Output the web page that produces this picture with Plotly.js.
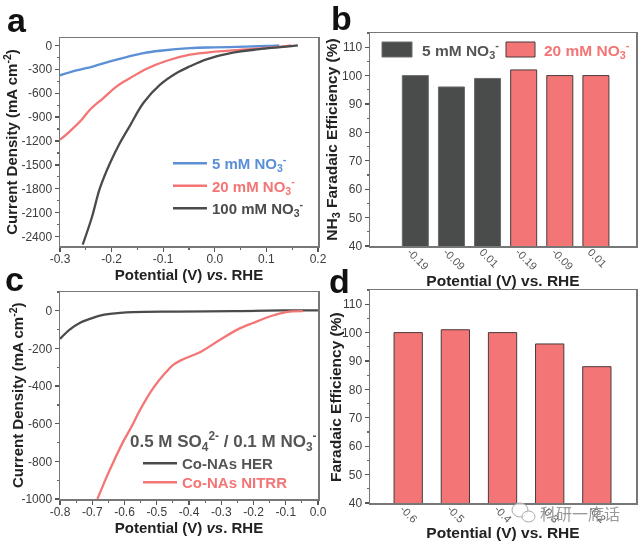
<!DOCTYPE html>
<html>
<head>
<meta charset="utf-8">
<script src="https://cdn.plot.ly/plotly-3.0.1.min.js"></script>
<style>html,body{margin:0;padding:0;background:#fff}#chart{width:641px;height:541px;filter:blur(0.45px)}</style>
</head>
<body>
<div id="chart"></div>
<script>
// Panel a
const a5x = [-0.3,-0.268,-0.235,-0.203,-0.171,-0.138,-0.106,-0.048,0,0.061,0.1,0.125];
const a5y = [-376,-314,-263,-201,-147,-97,-68,-34,-25,-17,-8,0];
const a20x = [-0.3,-0.281,-0.258,-0.242,-0.216,-0.19,-0.164,-0.132,-0.093,-0.048,0,0.061,0.113,0.148];
const a20y = [-1184,-1078,-933,-808,-661,-514,-410,-293,-193,-118,-80,-50,-25,0];
const a100x = [-0.256,-0.2386,-0.2225,-0.203,-0.184,-0.164,-0.1385,-0.106,-0.074,-0.048,-0.016,0.035,0.1,0.139,0.161];
const a100y = [-2500,-2166,-1789,-1476,-1225,-1003,-724,-494,-347,-263,-176,-92,-38,-17,0];
// Panel b
const bCats = ["-0.19","-0.09","0.01","-0.19","-0.09","0.01"];
const b5 = [100,96,99];
const b20 = [102,100,100];
// Panel c
const cHerX = [-0.8,-0.77,-0.739,-0.707,-0.676,-0.645,-0.574,-0.44,-0.264,-0.109,0];
const cHerY = [-149,-100,-65,-43,-25,-16,-7,-4,-2,2,2];
const cNoX = [-0.684,-0.655,-0.629,-0.604,-0.578,-0.552,-0.511,-0.474,-0.449,-0.418,-0.366,-0.304,-0.25,-0.202,-0.14,-0.098,-0.047];
const cNoY = [-1000,-881,-783,-695,-615,-527,-411,-331,-287,-257,-220,-154,-100,-65,-25,-7,-2];
// Panel d
const dCats = ["-0.6","-0.5","-0.4","-0.3","-0.2"];
const dVals = [100,101,100,96,88];
// Tick labels
const aXTicks = ["-0.3","-0.2","-0.1","0.0","0.1","0.2"];
const aYTicks = ["0","-300","-600","-900","-1200","-1500","-1800","-2100","-2400"];
const cXTicks = ["-0.8","-0.7","-0.6","-0.5","-0.4","-0.3","-0.2","-0.1","0.0"];
const cYTicks = ["0","-200","-400","-600","-800","-1000"];
const feTicks = ["40","50","60","70","80","90","100","110"];

const W = 641, H = 541;
const BLUE = "#5b8fd6", RED = "#f47575", DARK = "#4a4c4c", TXT = "#3c3c3c";
const FONT = "Liberation Sans, Arial, sans-serif";
const px = v => v / W, py = v => 1 - v / H;
const leg = (c, t) => `<b><span style="color:${c}">${t}</span></b>`;
const NO3 = "NO<sub>3</sub><sup>-</sup>";
const nums = a => a.map(Number);

function axis(dom, anchor, extra) {
  return Object.assign({
    domain: dom, anchor: anchor, showgrid: false, zeroline: false, showline: true, mirror: true,
    linecolor: "#777", linewidth: 1.5, ticks: "outside", ticklen: 4, tickwidth: 1.2, tickcolor: "#555",
    tickfont: {family: FONT, size: 12, color: TXT}
  }, extra);
}
const minor = d => ({dtick:d,ticks:"outside",ticklen:2,tickcolor:"#666"});
const ttl = (t, s, size) => ({text:"<b>"+t+"</b>",standoff:s,font:{family:FONT,size:size,color:"#222"}});
const note = (t, x, y, size, color, family, angle) => ({text:t,x:px(x),y:py(y),xref:"paper",yref:"paper",xanchor:"center",yanchor:"middle",showarrow:false,textangle:angle||0,font:{family:family||FONT,size:size,color:color}});
const line = {width:2.3,shape:"spline",smoothing:1};

const traces = [
  {x:a5x, y:a5y, xaxis:"x", yaxis:"y", type:"scatter", mode:"lines", line:{...line,color:BLUE}, name:leg(BLUE,"5 mM "+NO3), legend:"legend"},
  {x:a20x, y:a20y, xaxis:"x", yaxis:"y", type:"scatter", mode:"lines", line:{...line,color:RED}, name:leg(RED,"20 mM "+NO3), legend:"legend"},
  {x:a100x, y:a100y, xaxis:"x", yaxis:"y", type:"scatter", mode:"lines", line:{...line,color:DARK}, name:leg(DARK,"100 mM "+NO3), legend:"legend"},
  {x:[1,2,3], y:b5, xaxis:"x2", yaxis:"y2", type:"bar", width:0.72, marker:{color:DARK,line:{color:"#6a6c6c",width:1}}, showlegend:false},
  {x:[4,5,6], y:b20, xaxis:"x2", yaxis:"y2", type:"bar", width:0.72, marker:{color:RED,line:{color:"#4a3a3a",width:1}}, showlegend:false},
  {x:cHerX, y:cHerY, xaxis:"x3", yaxis:"y3", type:"scatter", mode:"lines", line:{...line,color:DARK}, name:leg("#555","Co-NAs HER"), legend:"legend3"},
  {x:cNoX, y:cNoY, xaxis:"x3", yaxis:"y3", type:"scatter", mode:"lines", line:{...line,color:RED}, name:leg(RED,"Co-NAs NITRR"), legend:"legend4"},
  {x:[1,2,3,4,5], y:dVals, xaxis:"x4", yaxis:"y4", type:"bar", width:0.6, marker:{color:RED,line:{color:"#4a3a3a",width:1}}, showlegend:false}
];

const legendBase = {font:{family:FONT,size:15,color:TXT}, bgcolor:"rgba(0,0,0,0)", borderwidth:0, xanchor:"left", yanchor:"top", tracegroupgap:0, itemwidth:34};
const barTicks = {ticks:"",tickangle:45,tickfont:{family:FONT,size:11,color:"#555"},ticklabelstandoff:-6,ticklabelshift:-5};

const layout = {
  width: W, height: H, margin:{l:0,r:0,t:0,b:0,pad:0}, paper_bgcolor:"#fff", plot_bgcolor:"#fff", font:{family:FONT},
  xaxis: axis([px(60),px(318)],"y",{range:[-0.3,0.2],tickvals:nums(aXTicks),ticktext:aXTicks,ticklabelstandoff:-3,minor:minor(0.05),title:ttl("Potential (V) <i>vs</i>. RHE",2,15)}),
  yaxis: axis([py(246),py(38)],"x",{range:[-2517,92],tickvals:nums(aYTicks),ticktext:aYTicks,minor:minor(150),title:ttl("Current Density (mA cm<sup>-2</sup>)",0,15)}),
  xaxis2: axis([px(370),px(636)],"y2",{range:[-0.255,7.11],tickvals:[1,2,3,4,5,6],ticktext:bCats,...barTicks,title:ttl("Potential (V) vs. RHE",0,15.5)}),
  yaxis2: axis([py(246),py(33)],"x2",{range:[40,115],tickvals:nums(feTicks),ticktext:feTicks,minor:minor(5),title:ttl("NH<sub>3</sub> Faradaic Efficiency (%)",0,15.5)}),
  xaxis3: axis([px(60),px(318)],"y3",{range:[-0.8,0],tickvals:nums(cXTicks),ticktext:cXTicks,ticklabelstandoff:-3,minor:minor(0.05),title:ttl("Potential (V) <i>vs</i>. RHE",2,15)}),
  yaxis3: axis([py(499),py(292)],"x3",{range:[-1000,100],tickvals:nums(cYTicks),ticktext:cYTicks,minor:minor(100)}),
  xaxis4: axis([px(370),px(636)],"y4",{range:[0.19,5.83],tickvals:[1,2,3,4,5],ticktext:dCats,...barTicks,title:ttl("Potential (V) vs. RHE",0,15.5)}),
  yaxis4: axis([py(503),py(290)],"x4",{range:[40,115],tickvals:nums(feTicks),ticktext:feTicks,minor:minor(5)}),
  legend: {...legendBase,x:px(168),y:py(147),traceorder:"normal"},
  legend3: {...legendBase,x:px(138),y:py(447)},
  legend4: {...legendBase,x:px(138),y:py(466)},
  annotations: [
    note("<b>a</b>",17,20,34,"#111"),
    note("<b>b</b>",341,18,34,"#111"),
    note("<b>c</b>",14.5,279,34,"#111"),
    note("<b>d</b>",339,281,34,"#111"),
    note("<b>Current Density (mA cm<sup>-2</sup>)</b>",16.5,395.5,15,"#222",FONT,-90),
    note("<b>Faradaic Efficiency (%)</b>",335,397,15.5,"#222",FONT,-90),
    note("<b>5 mM "+NO3+"</b>",460,50,15.5,"#555"),
    note("<b>20 mM "+NO3+"</b>",587,50,15.5,RED),
    note("<b>0.5 M SO<sub>4</sub><sup>2-</sup> / 0.1 M NO<sub>3</sub><sup>-</sup></b>",223,441,17,"#555"),
    note("科研一席话",580,513,16,"#999","Noto Sans CJK SC")
  ],
  shapes: [
    {type:"rect",xref:"paper",yref:"paper",x0:px(382),x1:px(412),y0:py(57),y1:py(42),fillcolor:DARK,line:{color:"#6a6c6c",width:1}},
    {type:"rect",xref:"paper",yref:"paper",x0:px(506),x1:px(535),y0:py(57),y1:py(42),fillcolor:RED,line:{color:"#4a3a3a",width:1}},
    {type:"circle",xref:"paper",yref:"paper",x0:px(512),x1:px(528),y0:py(517),y1:py(503),line:{color:"#aaa",width:1},fillcolor:"rgba(255,255,255,0.7)"},
    {type:"circle",xref:"paper",yref:"paper",x0:px(522),x1:px(535),y0:py(522),y1:py(511),line:{color:"#aaa",width:1},fillcolor:"rgba(255,255,255,0.7)"}
  ]
};
Plotly.newPlot("chart", traces, layout, {displayModeBar:false, staticPlot:true});
</script>
</body>
</html>
